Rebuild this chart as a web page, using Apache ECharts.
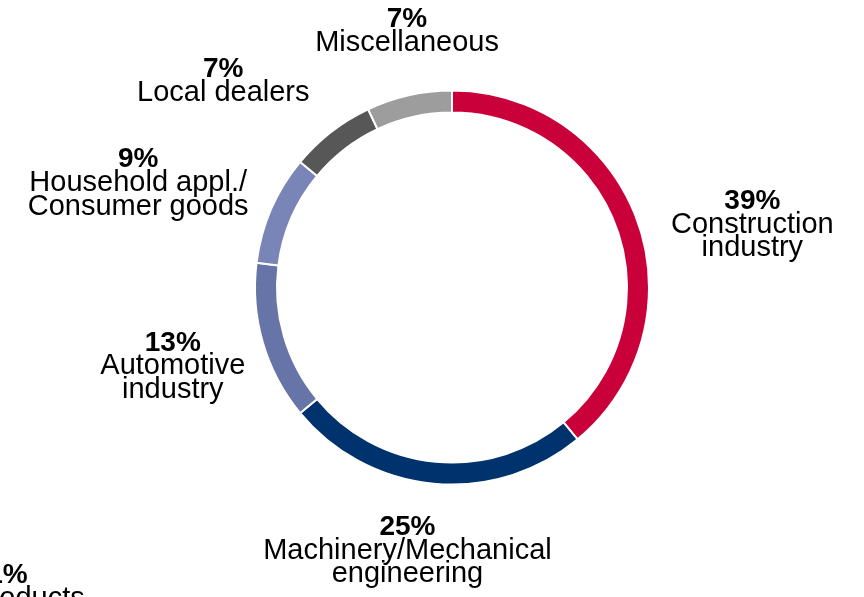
<!DOCTYPE html>
<html>
<head>
<meta charset="utf-8">
<script src="https://cdn.jsdelivr.net/npm/echarts@6/dist/echarts.min.js"></script>
<style>
  html, body { margin: 0; padding: 0; background: #fff; }
  #chart { width: 864px; height: 597px; }
</style>
</head>
<body>
<div id="chart"></div>
<script>
// 数据
var names = [
  "Construction\nindustry",
  "Machinery/Mechanical\nengineering",
  "Automotive\nindustry",
  "Household appl./\nConsumer goods",
  "Local dealers",
  "Miscellaneous"
];
var shares = [39, 25, 13, 9, 7, 7];
var colors = ["#c9003a", "#00326e", "#6674a7", "#7a85b7", "#575757", "#9d9d9d"];

// label shift from the outer middle of each ring piece
var labelShift = [
  [115, 4],
  [-26, 67],
  [-90, 24],
  [-133, -26],
  [-108, -51],
  [-2, -64]
];

var cx = 452, cy = 287.5, rIn = 175, rOut = 197;
var fontFamily = "'Liberation Sans', Arial, sans-serif";

var total = shares.reduce(function (a, b) { return a + b; }, 0);
var midAngles = [];
var acc = 0;
shares.forEach(function (v) {
  midAngles.push(90 - (acc + v / 2) / total * 360);
  acc += v;
});

var richStyles = {
  p: { fontFamily: fontFamily, fontSize: 28, fontWeight: "bold", color: "#000", lineHeight: 23.5, align: "center" },
  n: { fontFamily: fontFamily, fontSize: 29, color: "#000", lineHeight: 23.5, align: "center" }
};

var myChart = echarts.init(document.getElementById("chart"));
var option = {
  animation: false,
  backgroundColor: "#fff",
  graphic: [
    {
      type: "text",
      left: -70,
      top: 561,
      style: {
        text: "{p|1%}\n{n|Oil products}",
        align: "center",
        rich: richStyles
      }
    }
  ],
  series: [
    {
      type: "pie",
      center: [cx, cy],
      radius: [rIn, rOut],
      startAngle: 90,
      clockwise: true,
      avoidLabelOverlap: false,
      emphasis: { disabled: true },
      itemStyle: {
        borderColor: "#fff",
        borderWidth: 2
      },
      labelLine: { show: false },
      label: {
        show: true,
        position: "outside",
        formatter: function (p) {
          var lines = p.name.split("\n").map(function (s) {
            return "{n|" + s + "}";
          });
          return "{p|" + p.value + "%}\n" + lines.join("\n");
        },
        rich: richStyles
      },
      labelLayout: function (params) {
        var i = params.dataIndex;
        var a = midAngles[i] * Math.PI / 180;
        var px = cx + rOut * Math.cos(a);
        var py = cy - rOut * Math.sin(a);
        return {
          x: px + labelShift[i][0],
          y: py + labelShift[i][1],
          align: "center",
          verticalAlign: "middle"
        };
      },
      data: shares.map(function (v, i) {
        return { name: names[i], value: v, itemStyle: { color: colors[i] } };
      })
    }
  ]
};
myChart.setOption(option);
window.addEventListener("resize", function () {
  myChart.resize();
});
</script>
</body>
</html>
